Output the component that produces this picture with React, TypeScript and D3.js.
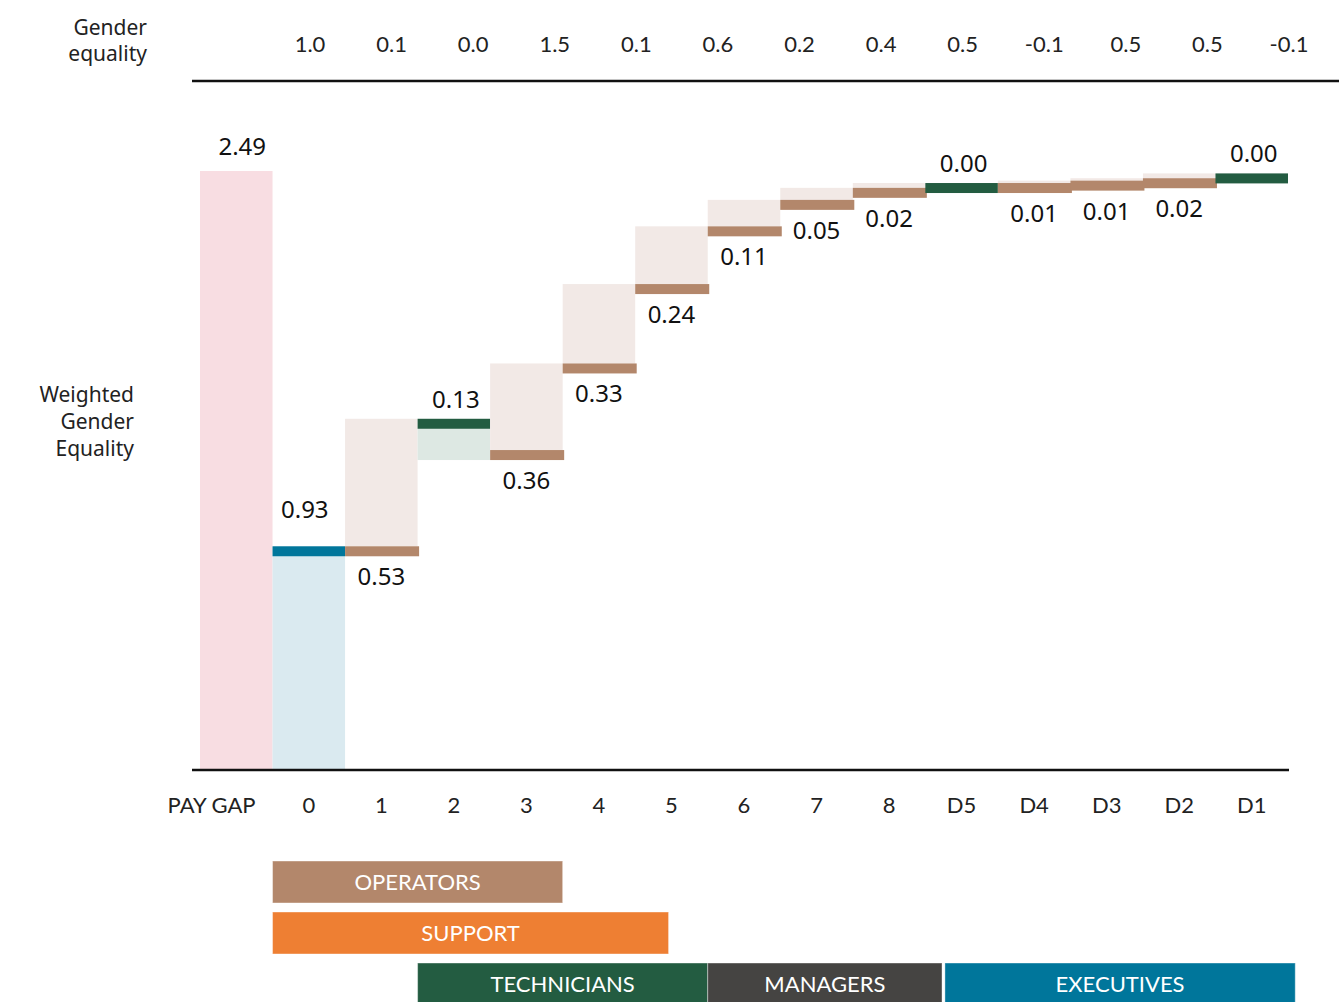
import React from "react";
import * as d3 from "d3";

const categories = ["PAY GAP", "0", "1", "2", "3", "4", "5", "6", "7", "8", "D5", "D4", "D3", "D2", "D1"];
const stepValues = [2.49, 0.93, 0.53, -0.13, 0.36, 0.33, 0.24, 0.11, 0.05, 0.02, 0.0, 0.01, 0.01, 0.02, 0.0];
const stepKinds = ["total", "base", "up", "down", "up", "up", "up", "up", "up", "up", "down", "up", "up", "up", "down"];

const genderEquality = ["1.0", "0.1", "0.0", "1.5", "0.1", "0.6", "0.2", "0.4", "0.5", "-0.1", "0.5", "0.5", "-0.1"];

const groupNames = ["OPERATORS", "SUPPORT", "TECHNICIANS", "MANAGERS", "EXECUTIVES"];
const groupStart = [1, 1, 3, 7, 10.27];
const groupEnd = [5, 6.46, 7, 10.23, 15.1];
const groupRow = [0, 1, 2, 2, 2];
const groupColors = ["#b3876b", "#ee7f33", "#235c41", "#454442", "#00769b"];

const W = 1339;
const H = 1002;
const LINE = 10;

const colors = {
  total: "#f8dde2",
  baseLine: "#00769b",
  baseFill: "#daeaf0",
  upLine: "#b3876b",
  upFill: "#f2e9e6",
  downLine: "#235c41",
  downFill: "#dde8e3",
};

const labelFont = "'Noto Sans', 'Open Sans', sans-serif";
const axisFont = "Lato, 'Noto Sans', sans-serif";

export default function App() {
  const x = d3.scaleBand<string>().domain(categories).range([200, 1288]).padding(0);
  const bw = x.bandwidth();
  const y = d3.scaleLinear().domain([0, 2.49]).range([770, 171]);
  const colX = d3.scaleLinear().domain([0, categories.length]).range([200, 1288]);
  const topX = d3.scalePoint<number>().domain(d3.range(genderEquality.length)).range([310, 1289]);

  let level = 0;
  const marks: React.ReactNode[] = [];
  categories.forEach((c, i) => {
    const v = stepValues[i];
    const kind = stepKinds[i];
    const x0 = x(c)!;
    const cx = x0 + bw / 2;
    const label = Math.abs(v).toFixed(2);
    if (kind === "total") {
      marks.push(
        <g key={c}>
          <rect x={x0} y={y(v)} width={bw} height={y(0) - y(v)} fill={colors.total} />
          <text x={cx + 6} y={y(v) - 16} textAnchor="middle" fontSize={24} fontFamily={labelFont} fill="#111">{label}</text>
        </g>
      );
    } else if (kind === "base") {
      level = v;
      marks.push(
        <g key={c}>
          <rect x={x0} y={y(v) + LINE} width={bw} height={y(0) - y(v) - LINE} fill={colors.baseFill} />
          <rect x={x0} y={y(v)} width={bw} height={LINE} fill={colors.baseLine} />
          <text x={cx - 4} y={y(v) - 28} textAnchor="middle" fontSize={24} fontFamily={labelFont} fill="#111">{label}</text>
        </g>
      );
    } else if (kind === "up") {
      const start = level;
      const end = level + v;
      level = end;
      marks.push(
        <g key={c}>
          <rect x={x0} y={y(end)} width={bw} height={y(start) - y(end)} fill={colors.upFill} />
          <rect x={x0} y={y(start)} width={bw + 1.5} height={LINE} fill={colors.upLine} />
          <text x={cx} y={y(start) + LINE + 29} textAnchor="middle" fontSize={24} fontFamily={labelFont} fill="#111">{label}</text>
        </g>
      );
    } else {
      const start = level;
      const end = level + v;
      level = end;
      marks.push(
        <g key={c}>
          <rect x={x0} y={y(start) + LINE} width={bw} height={y(end) - y(start)} fill={colors.downFill} />
          <rect x={x0} y={y(start)} width={bw} height={LINE} fill={colors.downLine} />
          <text x={cx + 2} y={y(start) - 11} textAnchor="middle" fontSize={24} fontFamily={labelFont} fill="#111">{label}</text>
        </g>
      );
    }
  });

  return (
    <svg width={W} height={H} viewBox={`0 0 ${W} ${H}`} style={{ position: "absolute", left: 0, top: 0, background: "#fff" }}>
      {/* top row: gender equality */}
      <text x={147} y={35} textAnchor="end" fontSize={21} fontFamily={labelFont} fill="#222">Gender</text>
      <text x={147} y={61} textAnchor="end" fontSize={21} fontFamily={labelFont} fill="#222">equality</text>
      {genderEquality.map((g, i) => (
        <text key={i} x={topX(i)} y={52} textAnchor="middle" fontSize={22} fontFamily={axisFont} fill="#222">{g}</text>
      ))}
      <line x1={192} x2={W} y1={81} y2={81} stroke="#111" strokeWidth={2.5} />

      {/* left label */}
      {["Weighted", "Gender", "Equality"].map((t, i) => (
        <text key={t} x={134} y={402 + i * 27} textAnchor="end" fontSize={21} fontFamily={labelFont} fill="#222">{t}</text>
      ))}

      {marks}

      <line x1={192} x2={1289} y1={770} y2={770} stroke="#111" strokeWidth={2.5} />
      {categories.map((c, i) => (
        <text
          key={c}
          x={i === 0 ? x(c)! + bw - 17 : x(c)! + bw / 2}
          y={813}
          textAnchor={i === 0 ? "end" : "middle"}
          fontSize={22}
          fontFamily={axisFont}
          fill="#222"
        >
          {c}
        </text>
      ))}

      {groupNames.map((g, i) => {
        const gx0 = colX(groupStart[i]);
        const gx1 = colX(groupEnd[i]);
        const gy = 861 + groupRow[i] * 51;
        return (
          <g key={g}>
            <rect x={gx0} y={gy} width={gx1 - gx0} height={42} fill={groupColors[i]} stroke="#ffffff" strokeOpacity={0.4} strokeWidth={1} />
            <text x={(gx0 + gx1) / 2} y={gy + 21} dy="0.36em" textAnchor="middle" fontSize={22} fontFamily={axisFont} fill="#fff">{g}</text>
          </g>
        );
      })}
    </svg>
  );
}
